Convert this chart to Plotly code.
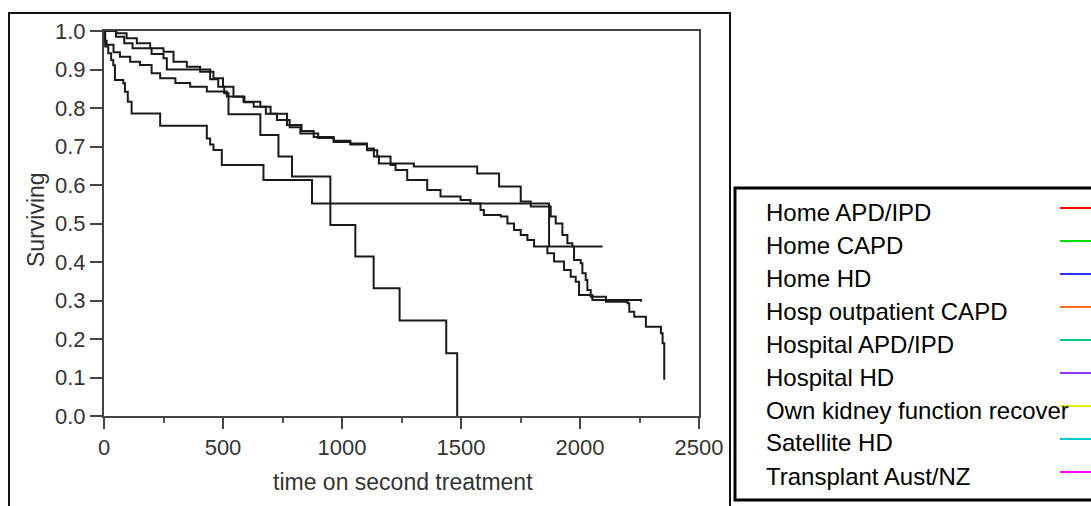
import plotly.graph_objects as go

# ---- data ----
curve_a_t = [0, 5, 18, 30, 39, 46, 81, 88, 100, 116, 236, 432, 446, 460, 495, 670, 874, 1870, 2095]
curve_a_s = [1.0, 0.96, 0.942, 0.925, 0.911, 0.873, 0.864, 0.842, 0.816, 0.786, 0.754, 0.721, 0.705, 0.691, 0.652, 0.613, 0.552, 0.44, 0.44]

curve_b_t = [0, 53, 95, 138, 194, 250, 292, 348, 404, 460, 500, 544, 590, 629, 680, 727, 780, 825, 900, 965,
             1035, 1105, 1134, 1155, 1302, 1568, 1660, 1751, 1793, 1877, 1898, 1926, 1947, 1968, 1975, 2003,
             2010, 2024, 2031, 2045, 2052, 2256]
curve_b_s = [1.0, 0.994, 0.981, 0.968, 0.955, 0.946, 0.92, 0.907, 0.894, 0.877, 0.855, 0.829, 0.815, 0.803, 0.785,
             0.769, 0.75, 0.734, 0.722, 0.712, 0.708, 0.695, 0.674, 0.656, 0.648, 0.630, 0.596, 0.557, 0.544, 0.518,
             0.50, 0.47, 0.449, 0.44, 0.405, 0.397, 0.371, 0.353, 0.327, 0.314, 0.301, 0.297]

curve_c_t = [0, 50, 85, 120, 200, 250, 264, 446, 480, 505, 523, 657, 733, 790, 951, 1056, 1133, 1242, 1438, 1484]
curve_c_s = [1.0, 0.985, 0.968, 0.955, 0.94, 0.929, 0.9, 0.875, 0.855, 0.838, 0.784, 0.73, 0.674, 0.622, 0.496,
             0.414, 0.332, 0.248, 0.163, 0.0]

curve_d_t = [0, 2, 11, 40, 67, 110, 151, 200, 236, 300, 362, 432, 516, 586, 657, 700, 769, 830, 881, 965, 1035,
             1105, 1148, 1204, 1225, 1274, 1358, 1414, 1498, 1540, 1582, 1596, 1667, 1695, 1723, 1751, 1779, 1807,
             1863, 1891, 1933, 1961, 1982, 1996, 2045, 2109, 2200, 2207, 2228, 2277, 2340, 2347, 2354]
curve_d_s = [1.0, 0.975, 0.964, 0.945, 0.933, 0.92, 0.912, 0.89, 0.877, 0.865, 0.855, 0.843, 0.83, 0.816, 0.803,
             0.785, 0.756, 0.74, 0.725, 0.715, 0.705, 0.69, 0.674, 0.652, 0.639, 0.613, 0.587, 0.57, 0.561, 0.552,
             0.535, 0.522, 0.518, 0.50, 0.483, 0.47, 0.457, 0.44, 0.423, 0.401, 0.379, 0.362, 0.349, 0.314, 0.31,
             0.297, 0.293, 0.271, 0.258, 0.232, 0.215, 0.189, 0.094]

legend_labels = ["Home APD/IPD", "Home CAPD", "Home HD", "Hosp outpatient CAPD", "Hospital APD/IPD",
                 "Hospital HD", "Own kidney function recover", "Satellite HD", "Transplant Aust/NZ"]
legend_colors = ["#ff0000", "#00dd00", "#3030ff", "#ff7020", "#00cc88", "#9933ff", "#eeee00", "#00cccc", "#ff00ff"]

x_ticks = [0, 500, 1000, 1500, 2000, 2500]
y_ticks = [0.0, 0.1, 0.2, 0.3, 0.4, 0.5, 0.6, 0.7, 0.8, 0.9, 1.0]

# ---- layout geometry (pixels) ----
W, H = 1091, 506
L, T, R, B = 104, 31, 699, 416


def xp(px):
    return (px - L) / (R - L)


def yp(py):
    return (B - py) / (B - T)


FONT = "Liberation Sans, Arial, sans-serif"
LINE = "#1a1a1a"

fig = go.Figure()
for t, s in [(curve_a_t, curve_a_s), (curve_b_t, curve_b_s), (curve_c_t, curve_c_s), (curve_d_t, curve_d_s)]:
    fig.add_trace(go.Scatter(x=t, y=s, mode="lines", line=dict(color=LINE, width=2, shape="hv"),
                             showlegend=False, hoverinfo="skip"))

shapes = []
# outer picture frame
shapes.append(dict(type="rect", xref="paper", yref="paper", x0=xp(9), x1=xp(730), y0=yp(530), y1=yp(13),
                   line=dict(color="#111", width=2), layer="above"))
# legend box
shapes.append(dict(type="rect", xref="paper", yref="paper", x0=xp(735), x1=xp(1100), y0=yp(500), y1=yp(188),
                   line=dict(color="#000", width=3), fillcolor="white", layer="above"))

annotations = []
for i, (lab, col) in enumerate(zip(legend_labels, legend_colors)):
    yc = 212 + 33 * i
    annotations.append(dict(text=lab, xref="paper", yref="paper", x=xp(764), y=yp(yc), xanchor="left",
                            yanchor="middle", showarrow=False, font=dict(family=FONT, size=24, color="#000")))
    shapes.append(dict(type="line", xref="paper", yref="paper", x0=xp(1060), x1=xp(1095), y0=yp(yc - 4),
                       y1=yp(yc - 4), line=dict(color=col, width=2), layer="above"))

annotations.append(dict(text="Surviving", xref="paper", yref="paper", x=xp(36), y=yp(220), textangle=-90,
                        xanchor="center", yanchor="middle", showarrow=False,
                        font=dict(family=FONT, size=23, color="#333")))
annotations.append(dict(text="time on second treatment", xref="paper", yref="paper", x=xp(403), y=yp(482),
                        xanchor="center", yanchor="middle", showarrow=False,
                        font=dict(family=FONT, size=23, color="#333")))

fig.update_layout(
    width=W, height=H,
    margin=dict(l=L, r=W - R, t=T, b=H - B, pad=0),
    paper_bgcolor="white", plot_bgcolor="white",
    shapes=shapes, annotations=annotations,
    showlegend=False,
    xaxis=dict(range=[0, 2500], tickvals=x_ticks, ticktext=[str(v) for v in x_ticks],
               showgrid=False, zeroline=False, showline=True, linecolor="#444", linewidth=2, mirror=True,
               ticks="outside", ticklen=11, tickwidth=2, tickcolor="#444",
               minor=dict(dtick=250, ticks="outside", ticklen=5, tickwidth=2, tickcolor="#555", showgrid=False),
               tickfont=dict(family=FONT, size=22, color="#333")),
    yaxis=dict(range=[0, 1], tickvals=y_ticks, ticktext=["%.1f" % v for v in y_ticks],
               showgrid=False, zeroline=False, showline=True, linecolor="#444", linewidth=2, mirror=True,
               ticks="outside", ticklen=12, tickwidth=2, tickcolor="#444",
               tickfont=dict(family=FONT, size=22, color="#333")),
)

fig.write_html("out.html")
